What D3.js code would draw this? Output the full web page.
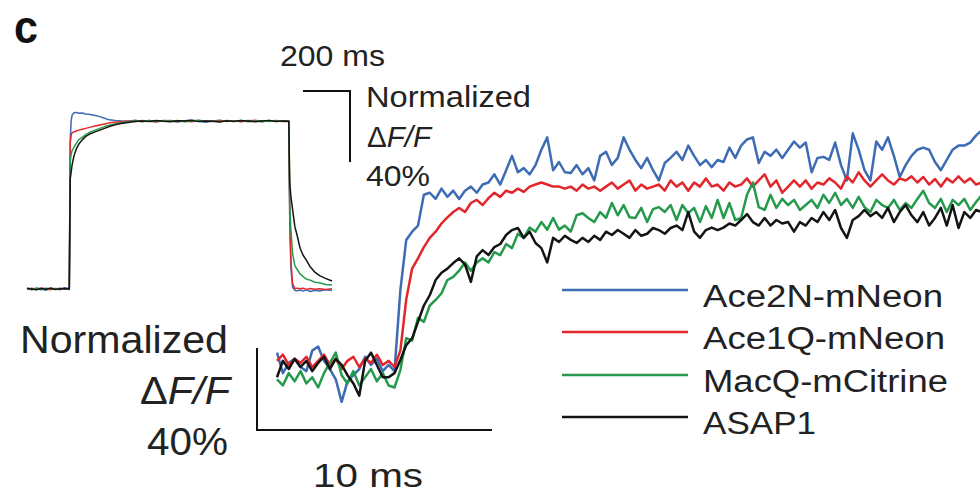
<!DOCTYPE html>
<html>
<head>
<meta charset="utf-8">
<script src="https://cdn.jsdelivr.net/npm/d3@7"></script>
<style>
  body { margin: 0; background: #fff; }
  text { font-family: "Liberation Sans", Arial, Helvetica, sans-serif; fill: #222; }
</style>
</head>
<body>
<script>
// ---- data ----
var seriesNames = ["Ace2N-mNeon", "Ace1Q-mNeon", "MacQ-mCitrine", "ASAP1"];
var seriesColors = ["#3d6cb4", "#e2262c", "#259a4c", "#141414"];

// inset: 1 s step, time in ms, normalized dF/F in %
var insetTime = [0,20,40,60,80,100,120,140,160,180,
  184,188,192,200,210,220,235,250,270,290,310,330,350,375,400,
  430,460,490,520,550,580,610,640,670,700,730,760,790,820,850,880,910,940,970,1000,1030,1060,1090,
  1114,1118,1123,1130,1140,1150,1162,1175,1190,1205,1225,1245,1270,1298];

var insetAce2N = [0.4,-0.5,0.6,0.1,-0.7,0.5,0.2,-0.4,0.7,0.1,
  84,95,98,99.3,99.5,99,99.2,98.6,98.3,97.8,97.1,96.2,95.3,94.9,94.6,
  94.5,95.1,94.2,94.9,94.4,95.0,94.6,94.1,94.8,95.2,94.5,94.0,94.7,95.1,94.3,94.8,94.4,95.0,94.6,94.2,94.9,94.5,94.7,
  94.6,40,12,1,-0.8,-1,-0.6,-1.2,-0.5,-1.4,-0.7,-1.1,-0.4,-0.9];
var insetAce1Q = [-0.2,0.4,-0.3,0.5,0.2,-0.4,0.3,0.1,-0.2,0.4,
  82,87,88,88.5,89,89.5,90,90.5,91.2,91.8,92.4,93,93.6,94,94.4,
  94.6,94.3,94.9,94.5,94.1,94.8,95.0,94.4,94.7,94.2,94.9,94.6,94.3,95.0,94.5,94.8,94.2,94.7,95.1,94.4,94.6,94.9,94.3,
  94.5,42,16,3,0.2,0.5,0.1,0.4,-0.2,0.3,-0.1,0.2,-0.3,0.1];
var insetMacQ = [0.1,-0.3,0.2,-0.5,0.4,0.1,-0.2,0.5,0.0,-0.3,
  72,76,78,80,82,84,85.5,87,88.5,89.5,90.5,91.5,92.3,93,93.8,
  94.2,94.7,94.4,95.0,94.3,94.8,94.5,94.9,94.2,94.6,95.1,94.4,94.7,94.3,94.9,94.5,95.0,94.2,94.6,94.8,94.3,94.7,94.5,
  94.6,48,33,20,13,11,8.5,7,5.5,5,3.8,3.5,2.5,2.2];
var insetASAP1 = [0.4,0.0,-0.4,0.3,-0.1,0.5,-0.3,0.2,0.3,0.0,
  62,66,70,75,79,81.5,84,86,87.5,88.5,89.5,90.5,91.5,92.5,93.2,
  93.8,94.3,94.7,94.4,94.9,94.5,94.2,94.8,94.6,95.0,94.3,94.7,94.5,94.1,94.8,94.4,94.9,94.6,94.2,94.7,95.0,94.4,94.6,
  94.5,60,52,45,35,30,23,19,16,12.5,9.5,7.5,6,4.5];

// main: onset, sampled every 0.25 ms from 0 to 30 ms
var mainStep = 0.25;
var mainAce2N = [7,-3,2,4,0,-2,8,10,3,-1,-6,-17,-7,-4,-1,5,1,4,-2,1,-2,
  37.5,62,66,69,84,85,82,87,83,86,
  82,86,88,85,89,90,94,89,96,103,
  95,97,94,98.5,106,112,96,100,95,94.6,
  98.5,94,97,91,103,105,98.5,102,112,106,
  101,97,102,96,91,99.5,102,105,101,108,
  103,98.5,101,97.5,101,100,107,102,108,111,
  112,99.5,105,103,106,102,106,110,107,109.5,
  95,102,102.5,101,109.5,98.5,91,114,106,96,
  91,110,106,112,103,92.7,98.5,103,106,107,
  106,100,96,101,106,108,108,109.5,113,115.6];
var mainAce1Q = [3,6,1,4,2,5,0,3,6,1,4,-1,3,5,0,4,2,6,1,3,0,
  8,33,48,53,58.5,63,66,70,73,75.6,
  77.6,75.6,80,81.5,79,82.4,85,83,86,85,
  87,85.4,88,89,90,89,88,88,87,88,
  86,89,87,88,86,88,90,87,89,91,
  86,89,87,88,89,86,91,88,90,86,
  90,88,92,88,89,86,90,88,89,92,
  88,91,94,88,91,85,88,91,88,91,
  87,90,89,92,90,87,93,90,95,91,
  88,91,94,91,89,92,91,93,90,92.7,
  89,91.7,88,92,90,93,90,92,89,90];
var mainMacQ = [-6,-9,-3,-7,-2,-8,-5,-10,-3,2,7,-4,-8,-2,-9,-5,-1,-7,-3,-9,-10,
  -1.5,14,13,24,22,30,32.7,36,42.4,44,
  47,51,47,51,53,51,56,54.6,60,58,
  65,63,68,66,70.7,67,72.7,67,69,66,
  74,75,72.7,70.7,75.6,72.7,80,74,79,73,
  72.7,77.6,70.7,77,78,75.6,79,71.7,79,75,
  77.6,70.7,78.5,72.7,81.5,72.7,80,71.7,72.7,84,
  90,78,76.6,84,77.6,82,79,81.5,76.6,79,
  81.5,77.6,84,80,85,79,82,77.6,83,78,
  75.6,81.5,79,77.6,81.5,76.6,80,77.6,82,86,
  80,77.6,82,75.6,81.5,79,82,76.6,80.5,84];
var mainASAP1 = [-5,3,-1,4,0,3,-2,2,5,-1,4,1,-4,-8,-14,3,7,1,-5,-5,-3,
  3.4,10.7,14,22,30,35,42.4,46,48,50.7,
  53,50,41.5,54,57,54.6,58.5,60,64.4,66.8,
  67.8,63,66,60.5,58,51,63,61,64,62,
  60.5,63,61,64,62,66,64.4,66.8,65,63,
  66.8,64,65,67.8,66.8,65,67.8,69,66.8,75.6,
  66,63,66.8,68,66.8,68,70,69,71.7,74.6,
  70.7,69,72.7,69,71.7,70,70.7,66,70.7,69,
  72.7,70.7,75.6,71.7,76.6,67.8,63,71.7,73.6,76.6,
  73.6,75.6,72.7,77.6,70.7,75.6,79,74,70.7,75.6,
  69,72.7,77.6,69,79,67.8,75.6,72.7,76.6,75.6];

var insetSeries = [insetAce2N, insetAce1Q, insetMacQ, insetASAP1];
var mainSeries = [mainAce2N, mainAce1Q, mainMacQ, mainASAP1];

// ---- drawing ----
var svg = d3.select("body")
  .append("svg")
  .attr("width", 980)
  .attr("height", 496);

// scales
var xInset = d3.scaleLinear().domain([0, 1300]).range([27, 27 + 1300 * 0.235]);
var yInset = d3.scaleLinear().domain([0, 40]).range([289, 218]);
var xMain = d3.scaleLinear().domain([0, 30]).range([277, 982]);
var yMain = d3.scaleLinear().domain([0, 40]).range([367, 285]);

var insetLine = d3.line()
  .x(function(d, i) { return xInset(insetTime[i]); })
  .y(function(d) { return yInset(d); });

var mainLine = d3.line()
  .x(function(d, i) { return xMain(i * mainStep); })
  .y(function(d) { return yMain(d); });

svg.append("g").selectAll("path")
  .data(insetSeries)
  .enter().append("path")
  .attr("d", insetLine)
  .attr("fill", "none")
  .attr("stroke", function(d, i) { return seriesColors[i]; })
  .attr("stroke-width", 1.5)
  .attr("stroke-linejoin", "round");

svg.append("g").selectAll("path")
  .data(mainSeries)
  .enter().append("path")
  .attr("d", mainLine)
  .attr("fill", "none")
  .attr("stroke", function(d, i) { return seriesColors[i]; })
  .attr("stroke-width", 2.5)
  .attr("stroke-linejoin", "round");

// scale bars
var insetBarX = 350, insetBarY = 91;
var insetW = xInset(200) - xInset(0);
var insetH = yInset(0) - yInset(40);
svg.append("path")
  .attr("d", "M" + (insetBarX - insetW) + "," + insetBarY + "H" + insetBarX + "V" + (insetBarY + insetH))
  .attr("fill", "none").attr("stroke", "#111").attr("stroke-width", 2);

var mainBarX = 257, mainBarY = 430;
var mainW = xMain(10) - xMain(0);
var mainH = yMain(0) - yMain(40);
svg.append("path")
  .attr("d", "M" + mainBarX + "," + (mainBarY - mainH) + "V" + mainBarY + "H" + (mainBarX + mainW))
  .attr("fill", "none").attr("stroke", "#111").attr("stroke-width", 2);

// text helper
function label(x, y, txt, size, len, anchor) {
  var t = svg.append("text")
    .attr("x", x).attr("y", y)
    .attr("font-size", size)
    .attr("text-anchor", anchor || "start")
    .text(txt);
  if (len) t.attr("textLength", len).attr("lengthAdjust", "spacingAndGlyphs");
  return t;
}

function dff(x, y, size, len) {
  var t = svg.append("text")
    .attr("x", x).attr("y", y)
    .attr("font-size", size)
    .attr("textLength", len).attr("lengthAdjust", "spacingAndGlyphs");
  t.append("tspan").text("\u0394");
  t.append("tspan").attr("font-style", "italic").text("F/F");
  return t;
}

label(14, 43, "c", 46, 24).attr("font-weight", "bold").style("fill", "#111");

label(280, 66, "200 ms", 30, 105);
label(366, 107, "Normalized", 30, 165);
dff(367, 147, 30, 64);
label(366, 186, "40%", 30, 64);

label(20, 353, "Normalized", 38, 208);
dff(140, 404, 38, 90);
label(147, 455, "40%", 38, 81);

label(313, 487, "10 ms", 33, 110);

// legend
var legendY = [290, 332, 375, 417];
var legendLen = [240, 242, 245, 113];
seriesNames.forEach(function(name, i) {
  svg.append("line")
    .attr("x1", 562).attr("x2", 688)
    .attr("y1", legendY[i]).attr("y2", legendY[i])
    .attr("stroke", seriesColors[i]).attr("stroke-width", 2.5);
  label(703, legendY[i] + 17, name, 31, legendLen[i]);
});
</script>
</body>
</html>
